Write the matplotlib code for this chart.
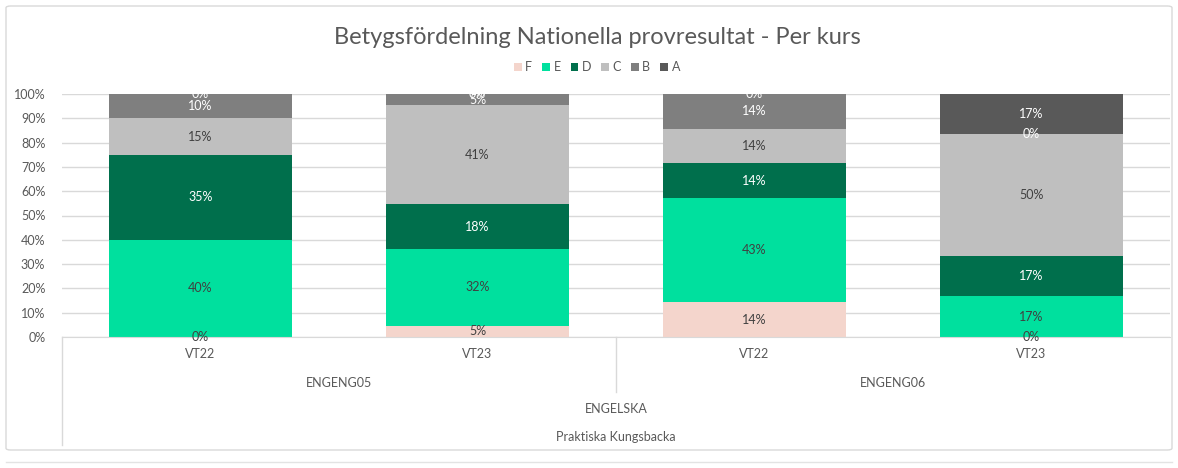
import matplotlib.pyplot as plt
from matplotlib.patches import FancyBboxPatch

plt.rcParams['font.family'] = ['Lato', 'DejaVu Sans']

# Data (percent per grade)
terms = ['VT22', 'VT23', 'VT22', 'VT23']
courses = ['ENGENG05', 'ENGENG06']
subject = 'ENGELSKA'
school = 'Praktiska Kungsbacka'
grades = ['F', 'E', 'D', 'C', 'B', 'A']
F = [0, 4.55, 14.3, 0]
E = [40, 31.8, 42.9, 16.7]
D = [35, 18.2, 14.3, 16.7]
C = [15, 40.9, 14.3, 50.0]
B = [10, 4.55, 14.3, 0]
A = [0, 0, 0, 16.7]
series = [F, E, D, C, B, A]

colors = ['#F4D5CC', '#00E09E', '#006F4C', '#BFBFBF', '#7F7F7F', '#595959']
label_colors = ['#404040', '#404040', 'white', '#404040', 'white', 'white']
txt = '#595959'

fig = plt.figure(figsize=(11.78, 4.68), dpi=100)
ax = fig.add_axes([62/1178, 1 - 337/468, 1108/1178, 243/468])

# outer chart frame
fig.patches.append(FancyBboxPatch((6/1178, 18/468), 1166/1178, 444/468,
                                  boxstyle='round,pad=0,rounding_size=0.004',
                                  transform=fig.transFigure, fill=False,
                                  edgecolor='#D9D9D9', linewidth=1))
fig.add_artist(plt.Line2D([6/1178, 1172/1178], [6/468, 6/468], color='#E3E3E3', lw=1))

x = list(range(len(terms)))
bottom = [0] * len(terms)
for vals, col, lc, g in zip(series, colors, label_colors, grades):
    ax.bar(x, vals, bottom=bottom, width=0.66, color=col, label=g, zorder=2)
    for i, v in enumerate(vals):
        ax.text(x[i], bottom[i] + v / 2, f'{round(v)}%', ha='center', va='center',
                fontsize=9, color=lc, zorder=3)
    bottom = [b + v for b, v in zip(bottom, vals)]

ax.set_xlim(-0.5, 3.5)
ax.set_ylim(0, 100)
ax.set_yticks(range(0, 101, 10))
ax.set_yticklabels([f'{t}%' for t in range(0, 101, 10)], fontsize=9, color=txt)
ax.tick_params(axis='y', length=0, pad=12)
ax.set_xticks([])
ax.grid(axis='y', color='#D9D9D9', linewidth=1, zorder=0)
for s in ['top', 'right', 'left']:
    ax.spines[s].set_visible(False)
ax.spines['bottom'].set_color('#D9D9D9')

# multi-level category axis
tr = ax.get_xaxis_transform()
for i, t in enumerate(terms):
    ax.text(x[i], -0.07, t, transform=tr, ha='center', va='center', fontsize=9, color=txt)
for j, c in enumerate(courses):
    ax.text(2 * j + 0.5, -0.19, c, transform=tr, ha='center', va='center', fontsize=9, color=txt)
ax.text(1.5, -0.296, subject, transform=tr, ha='center', va='center', fontsize=9, color=txt)
ax.text(1.5, -0.412, school, transform=tr, ha='center', va='center', fontsize=9, color=txt)
ax.plot([-0.5, -0.5], [0, -0.445], transform=tr, color='#D9D9D9', lw=1, clip_on=False)
ax.plot([1.5, 1.5], [0, -0.226], transform=tr, color='#D9D9D9', lw=1, clip_on=False)

fig.text(597/1178, 1 - 37/468, 'Betygsfördelning Nationella provresultat - Per kurs',
         ha='center', va='center', fontsize=17, color=txt)
fig.legend(loc='center', bbox_to_anchor=(597/1178, 1 - 67/468), ncol=6, frameon=False,
           fontsize=9, labelcolor=txt, handlelength=0.6, handleheight=0.6,
           handletextpad=0.3, columnspacing=0.8)

fig.savefig('out.png', dpi=100)
